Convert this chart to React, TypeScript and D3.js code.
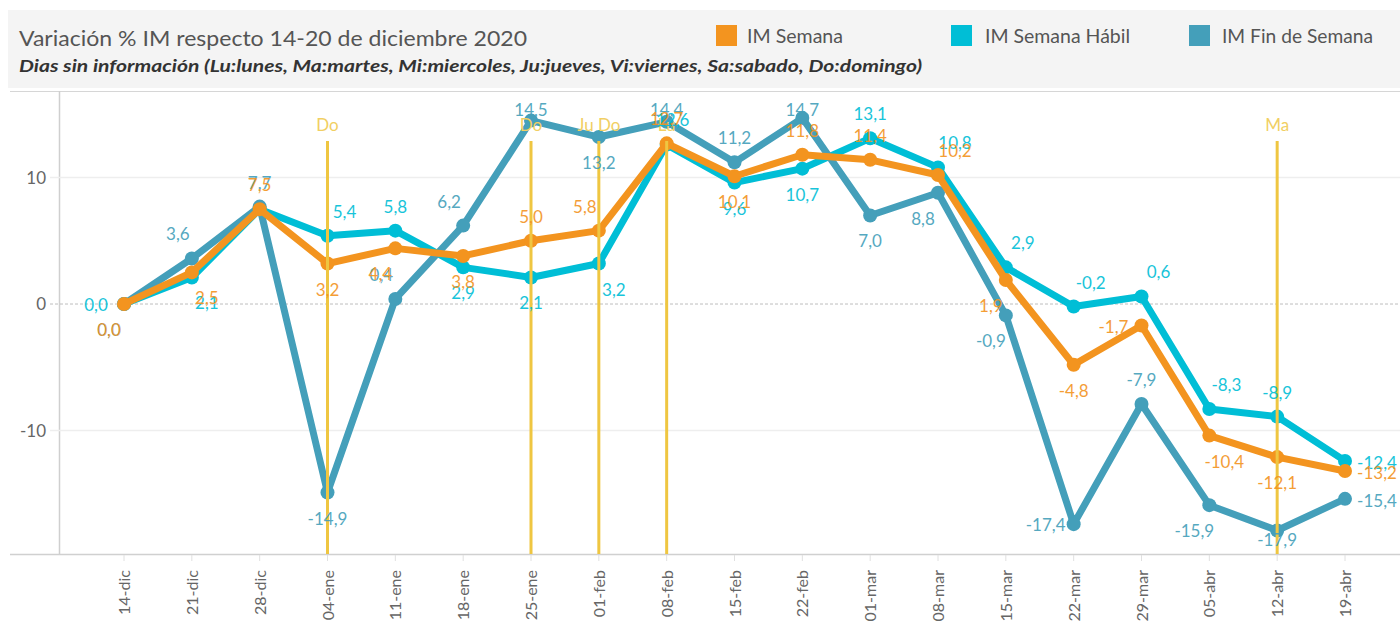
import React from "react";
import * as d3 from "d3";

const categories = ["14-dic","21-dic","28-dic","04-ene","11-ene","18-ene","25-ene","01-feb","08-feb","15-feb","22-feb","01-mar","08-mar","15-mar","22-mar","29-mar","05-abr","12-abr","19-abr"];

const imSemana = [0.0, 2.5, 7.5, 3.2, 4.4, 3.8, 5.0, 5.8, 12.7, 10.1, 11.8, 11.4, 10.2, 1.9, -4.8, -1.7, -10.4, -12.1, -13.2];
const imSemanaHabil = [0.0, 2.1, 7.5, 5.4, 5.8, 2.9, 2.1, 3.2, 12.6, 9.6, 10.7, 13.1, 10.8, 2.9, -0.2, 0.6, -8.3, -8.9, -12.4];
const imFinSemana = [0.0, 3.6, 7.7, -14.9, 0.4, 6.2, 14.5, 13.2, 14.4, 11.2, 14.7, 7.0, 8.8, -0.9, -17.4, -7.9, -15.9, -17.9, -15.4];

const yTicks = [-10, 0, 10];

const refCategories = ["04-ene", "25-ene", "01-feb", "08-feb", "12-abr"];
const refLabels = ["Do", "Do", "Ju Do", "Lu", "Ma"];

const seriesNames = ["IM Semana", "IM Semana Hábil", "IM Fin de Semana"];

// label placement codes (layout only)
const placeSemana = ["bl","br","a","b","bl","b","a","al","a","b","a","a","ar","bl","b","l","br","b","r"];
const placeHabil = ["l","br","","ar","a","b","b","br","ar2","b","b","a","ar","ar","ar","ar","ar","a","r"];
const placeFin = ["bl","al","a","b","al","al","a","b","a","a","a","b","bl","bl","l","a","bl","b","r"];

const COL_SEMANA = "#f3941f";
const COL_HABIL = "#00bed6";
const COL_FIN = "#449fba";
const COL_REF = "#efc641";
const COL_REF_TXT = "#f1cf63";

const FONT = "Lato, 'Open Sans', sans-serif";

const offsets: Record<string, [number, number]> = {
  a: [0, -24], b: [0, 26], l: [-28, 1], r: [32, 2],
  al: [-14, -24], ar: [17, -24], bl: [-15, 26], br: [15, 26], ar2: [6, -25],
};

export default function App() {
  const x = d3.scalePoint<string>().domain(categories).range([124, 1345]);
  const y = d3.scaleLinear().domain([-19.76, 16.76]).range([554, 92]);
  const line = d3.line<number>().x((_, i) => x(categories[i])!).y((d) => y(d));

  const series = [
    { name: seriesNames[2], values: imFinSemana, color: COL_FIN, place: placeFin },
    { name: seriesNames[1], values: imSemanaHabil, color: COL_HABIL, place: placeHabil },
    { name: seriesNames[0], values: imSemana, color: COL_SEMANA, place: placeSemana },
  ];
  const drawOrder = [1, 0, 2];
  const fmt = (v: number) => v.toFixed(1).replace(".", ",");

  const legend = [
    { name: seriesNames[0], color: COL_SEMANA, sx: 716, tx: 747, tw: 96 },
    { name: seriesNames[1], color: COL_HABIL, sx: 951, tx: 985, tw: 145 },
    { name: seriesNames[2], color: COL_FIN, sx: 1189, tx: 1222, tw: 151 },
  ];

  return (
    <div style={{ position: "absolute", left: 0, top: 0, width: 1400, height: 634, overflow: "hidden", background: "#fff" }}>
      <svg width={1400} height={634} style={{ display: "block", fontFamily: FONT }}>
        <rect x={8} y={10} width={1392} height={78} fill="#f4f4f4" />
        <text x={19} y={46} fontSize={22} fill="#555" textLength={508} lengthAdjust="spacingAndGlyphs">
          Variación % IM respecto 14-20 de diciembre 2020
        </text>
        <text x={19} y={72} fontSize={17} fontWeight="bold" fontStyle="italic" fill="#333" textLength={903} lengthAdjust="spacingAndGlyphs">
          Dias sin información (Lu:lunes, Ma:martes, Mi:miercoles, Ju:jueves, Vi:viernes, Sa:sabado, Do:domingo)
        </text>
        {legend.map((l) => (
          <g key={l.name}>
            <rect x={l.sx} y={25} width={21} height={21} fill={l.color} />
            <text x={l.tx} y={43} fontSize={19} fill="#555" textLength={l.tw} lengthAdjust="spacingAndGlyphs">{l.name}</text>
          </g>
        ))}

        {/* frame */}
        <line x1={10} x2={1400} y1={91.5} y2={91.5} stroke="#d6d6d6" strokeWidth={1} />
        <line x1={59.5} x2={59.5} y1={91} y2={555} stroke="#cfcfcf" strokeWidth={1.5} />
        <line x1={10} x2={1400} y1={554.5} y2={554.5} stroke="#d0d0d0" strokeWidth={1.5} />

        {/* grid */}
        {yTicks.map((t) => (
          <g key={t}>
            {t !== 0 && <line x1={50} x2={1400} y1={y(t)} y2={y(t)} stroke="#eeeeee" strokeWidth={1.5} />}
            {t === 0 && <line x1={50} x2={1400} y1={y(t)} y2={y(t)} stroke="#bdbdbd" strokeWidth={1} strokeDasharray="3,2" />}
            <text x={46} y={y(t) + 6} fontSize={17} fill="#666" textAnchor="end">{t}</text>
          </g>
        ))}

        {/* x ticks */}
        {categories.map((c) => (
          <g key={c}>
            <line x1={x(c)!} x2={x(c)!} y1={555} y2={561} stroke="#e0e0e0" />
            <text transform={`translate(${x(c)! + 6},570) rotate(-90)`} fontSize={16} fill="#666" textAnchor="end">{c}</text>
          </g>
        ))}

        {/* lines */}
        {drawOrder.map((si) => {
          const s = series[si];
          return (
            <g key={s.name}>
              <path d={line(s.values)!} fill="none" stroke={s.color} strokeWidth={7} strokeLinejoin="round" />
              {s.values.map((v, i) => (
                <circle key={i} cx={x(categories[i])!} cy={y(v)} r={7} fill={s.color} />
              ))}
            </g>
          );
        })}

        {/* reference lines */}
        {refCategories.map((c, i) => (
          <g key={c}>
            <line x1={x(c)!} x2={x(c)!} y1={141} y2={554} stroke={COL_REF} strokeWidth={3} />
            <text x={x(c)!} y={131} fontSize={17} fill={COL_REF_TXT} textAnchor="middle">{refLabels[i]}</text>
          </g>
        ))}

        {/* labels */}
        {drawOrder.map((si) => {
          const s = series[si];
          return (
            <g key={s.name + "lbl"}>
              {s.values.map((v, i) => {
                const p = s.place[i];
                if (!p) return null;
                const [dx, dy] = offsets[p];
                let cy = y(v) + dy;
                cy = Math.max(110, Math.min(540, cy));
                return (
                  <text key={i} x={x(categories[i])! + dx} y={cy + 6} fontSize={17} fill={s.color} textAnchor="middle" opacity={0.9}>
                    {fmt(v)}
                  </text>
                );
              })}
            </g>
          );
        })}
      </svg>
    </div>
  );
}
